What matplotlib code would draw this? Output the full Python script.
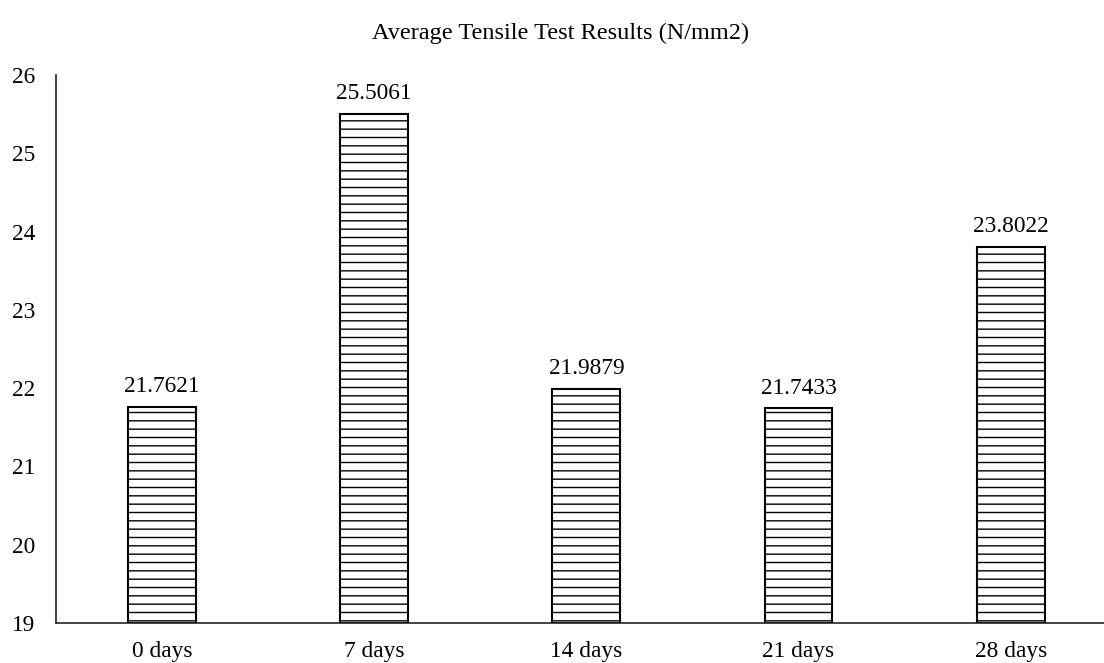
import matplotlib
matplotlib.use("Agg")
from matplotlib import pyplot as plt
import numpy as np

plt.rcParams['font.family'] = ['Liberation Serif', 'DejaVu Serif']
plt.rcParams['hatch.linewidth'] = 1.0

categories = ['0 days', '7 days', '14 days', '21 days', '28 days']
tensile = [21.7621, 25.5061, 21.9879, 21.7433, 23.8022]
yticks = [19, 20, 21, 22, 23, 24, 25, 26]

fig = plt.figure(figsize=(11.04, 6.63), dpi=100)
ax = fig.add_axes([0.0507, 0.0603, 0.9493, 0.8265])

x = np.arange(len(categories))
base = 19
heights = [v - base for v in tensile]
bars = ax.bar(x, heights, bottom=base, width=0.32, color='white',
              edgecolor='black', linewidth=1.5, hatch='--')

for xi, v in zip(x, tensile):
    ax.annotate(f'{v:.4f}', (xi, v), xytext=(0, 7), textcoords='offset points',
                ha='center', va='bottom', fontsize=16.8)

ax.set_xlim(-0.5, 4.44)
ax.set_ylim(19, 26)
ax.set_xticks(x)
ax.set_xticklabels(categories)
ax.set_yticks(yticks)
ax.tick_params(axis='both', length=0, labelsize=16.8)
ax.tick_params(axis='x', pad=13)
ax.tick_params(axis='y', pad=15)
for s in ['top', 'right']:
    ax.spines[s].set_visible(False)
for s in ['left', 'bottom']:
    ax.spines[s].set_color('#222222')
    ax.spines[s].set_linewidth(1.2)

fig.text(561 / 1104, 1 - 33 / 663, 'Average Tensile Test Results (N/mm2)',
         ha='center', va='center', fontsize=17.5)

fig.savefig('out.png', dpi=100)
